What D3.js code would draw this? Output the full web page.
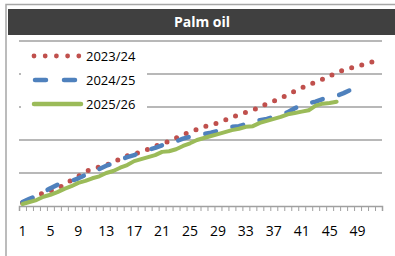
<!DOCTYPE html>
<html>
<head>
<meta charset="utf-8">
<script src="https://cdn.jsdelivr.net/npm/d3@7"></script>
<style>
  body { margin: 0; background: #fff; }
  svg { display: block; font-family: "Open Sans", sans-serif; }
</style>
</head>
<body>
<div id="chart"></div>
<script>
(function() {
    'use strict';

    // data: weekly cumulative values
    var title = "Palm oil";
    var seriesNames = ["2023/24", "2024/25", "2025/26"];
    var seriesColors = ["#c0504d", "#4f81bd", "#9bbb59"];
    var weeks = d3.range(1, 53);
    var tickLabels = [1, 5, 9, 13, 17, 21, 25, 29, 33, 37, 41, 45, 49];
    var yTicks = [0, 5, 10, 15, 20, 25];

    var s2023 = [0.5, 0.9, 1.5, 2.0, 2.3, 2.7, 3.2, 3.9, 4.5, 5.2, 5.6, 5.9, 6.2, 6.7, 7.1, 7.6, 7.9, 8.2, 8.6, 9.1,
                 9.4, 9.8, 10.3, 10.8, 11.2, 11.6, 12.0, 12.3, 12.6, 13.0, 13.5, 13.8, 14.2, 14.5, 15.0, 15.5, 15.9, 16.4, 16.8, 17.4,
                 17.9, 18.3, 18.8, 19.2, 19.7, 20.2, 20.6, 20.9, 21.2, 21.5, 21.8, 22.1];
    var s2024 = [0.6, 1.1, 1.5, 2.1, 2.7, 3.2, 3.5, 3.8, 4.2, 4.7, 5.2, 5.6, 6.1, 6.5, 7.0, 7.4, 7.7, 8.2, 8.5, 8.8,
                 9.2, 9.5, 9.8, 10.2, 10.5, 10.6, 10.9, 11.1, 11.4, 11.7, 12.0, 12.1, 12.4, 12.7, 13.0, 13.2, 13.5, 13.9, 14.2, 14.8,
                 15.3, 15.6, 15.8, 16.2, 16.5, 16.7, 17.1, 17.6, 18.0];
    var s2025 = [0.3, 0.6, 0.9, 1.4, 1.7, 2.1, 2.6, 3.0, 3.5, 3.8, 4.2, 4.5, 5.0, 5.3, 5.8, 6.2, 6.8, 7.1, 7.4, 7.7,
                 8.2, 8.3, 8.6, 9.1, 9.5, 10.0, 10.3, 10.6, 10.9, 11.2, 11.5, 11.7, 12.0, 12.1, 12.6, 12.9, 13.2, 13.5, 13.9, 14.1,
                 14.3, 14.5, 15.2, 15.5, 15.6, 15.8];
    var allSeries = [s2023, s2024, s2025];

    var width = 395, height = 256;
    var plot = { left: 19, right: 382, top: 41, bottom: 206 };

    var svg = d3.select("#chart").append("svg")
        .attr("width", width)
        .attr("height", height);

    // outer frame
    svg.append("rect")
        .attr("x", 6).attr("y", 4.5)
        .attr("width", 420).attr("height", 280)
        .attr("fill", "#fff")
        .attr("stroke", "#a6a6a6")
        .attr("stroke-width", 1.5);

    // title bar
    svg.append("rect")
        .attr("x", 8).attr("y", 9)
        .attr("width", 400).attr("height", 26)
        .attr("fill", "#404040");
    svg.append("text")
        .attr("x", 202).attr("y", 27)
        .attr("text-anchor", "middle")
        .attr("fill", "#fff")
        .attr("font-weight", "bold")
        .attr("font-size", "14px")
        .text(title);

    var x = d3.scaleBand().domain(weeks).range([plot.left, plot.right]);
    var xEdge = d3.scaleLinear().domain([0, weeks.length]).range([plot.left, plot.right]);
    var y = d3.scaleLinear().domain([0, 25]).range([plot.bottom, plot.top]);

    // gridlines
    svg.append("g")
        .selectAll("line")
        .data(yTicks.slice(1))
        .enter().append("line")
        .attr("x1", plot.left).attr("x2", plot.right)
        .attr("y1", function(d) { return y(d); })
        .attr("y2", function(d) { return y(d); })
        .attr("stroke", "#a0a0a0")
        .attr("stroke-width", 1.5);

    // x axis with ticks between categories
    var axisG = svg.append("g")
        .attr("transform", "translate(0," + plot.bottom + ")")
        .call(d3.axisBottom(xEdge).tickValues(d3.range(0, weeks.length + 1)).tickSize(5).tickFormat(""));
    axisG.select(".domain").attr("stroke", "#a0a0a0").attr("stroke-width", 1.5);
    axisG.selectAll(".tick line").attr("stroke", "#a0a0a0");

    svg.append("g")
        .selectAll("text")
        .data(tickLabels)
        .enter().append("text")
        .attr("x", function(d) { return x(d) + x.bandwidth() / 2; })
        .attr("y", 236)
        .attr("text-anchor", "middle")
        .attr("font-size", "14px")
        .attr("fill", "#000")
        .text(function(d) { return d; });

    var line = d3.line()
        .x(function(d, i) { return x(weeks[i]) + x.bandwidth() / 2; })
        .y(function(d) { return y(d); });

    var styles = [
        { width: 5, dash: "0 10.5", cap: "round" },
        { width: 4.5, dash: "11 17", cap: "round" },
        { width: 4, dash: null, cap: "round" }
    ];

    allSeries.forEach(function(values, i) {
        svg.append("path")
            .datum(values)
            .attr("d", line)
            .attr("fill", "none")
            .attr("stroke", seriesColors[i])
            .attr("stroke-width", styles[i].width)
            .attr("stroke-dasharray", styles[i].dash)
            .attr("stroke-linecap", styles[i].cap)
            .attr("stroke-linejoin", "round");
    });

    // legend
    var legend = svg.append("g");
    legend.append("rect")
        .attr("x", 21).attr("y", 43)
        .attr("width", 126).attr("height", 77)
        .attr("fill", "#fff");

    var legendY = [56, 80, 104];
    seriesNames.forEach(function(name, i) {
        var row = legend.append("g").attr("transform", "translate(0," + legendY[i] + ")");
        if (i === 0) {
            row.selectAll("circle")
                .data(d3.range(5))
                .enter().append("circle")
                .attr("cx", function(d) { return 34 + d * 11.2; })
                .attr("cy", 0)
                .attr("r", 2.4)
                .attr("fill", seriesColors[i]);
        } else {
            row.append("line")
                .attr("x1", i === 1 ? 35 : 34).attr("x2", i === 1 ? 76 : 81)
                .attr("y1", 0).attr("y2", 0)
                .attr("stroke", seriesColors[i])
                .attr("stroke-width", 4.5)
                .attr("stroke-linecap", "round")
                .attr("stroke-dasharray", i === 1 ? "11 18" : null);
        }
        row.append("text")
            .attr("x", 86).attr("y", 4.5)
            .attr("font-size", "13px")
            .attr("fill", "#000")
            .text(name);
    });
})();
</script>
</body>
</html>
